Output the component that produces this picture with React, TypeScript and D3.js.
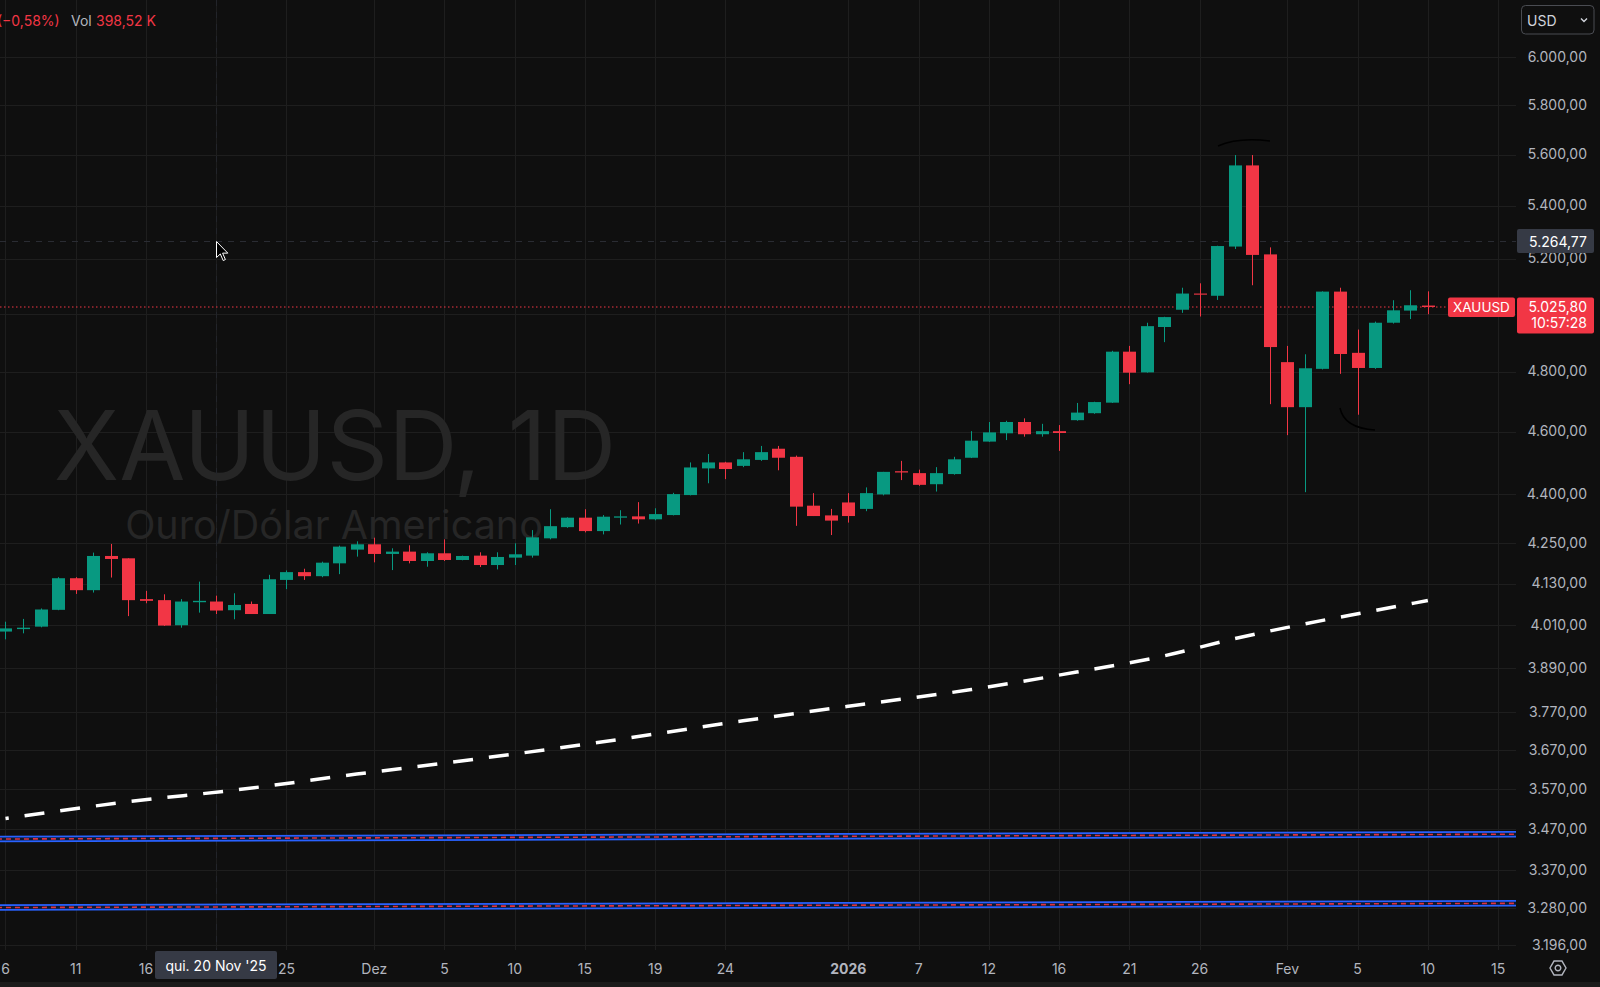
import React from 'react';
import * as d3 from 'd3';

// ---------- DATA ----------
// daily bars (Sun–Fri sessions), index 0 = 6 Nov 2025, index 81 = 10 Feb 2026
const opens = [3992, 3999, 4006, 4054, 4146, 4111, 4212, 4205, 4085, 4082, 4010, 4076, 4078, 4053, 4071, 4042, 4141, 4164, 4152, 4190, 4231, 4247, 4218, 4225, 4197, 4220, 4200, 4213, 4185, 4207, 4213, 4265, 4299, 4328, 4287, 4328, 4332, 4323, 4336, 4398, 4482, 4501, 4490, 4509, 4545, 4519, 4365, 4335, 4375, 4355, 4400, 4473, 4467, 4432, 4464, 4516, 4568, 4595, 4632, 4592, 4602, 4638, 4661, 4696, 4869, 4798, 4955, 5016, 5074, 5066, 5246, 5557, 5217, 4833, 4681, 4810, 5081, 4865, 4813, 4970, 5013, 5031];
const highs = [4020, 4028, 4058, 4149, 4149, 4222, 4248, 4205, 4109, 4099, 4085, 4136, 4095, 4102, 4078, 4156, 4169, 4174, 4195, 4243, 4256, 4267, 4235, 4244, 4223, 4262, 4213, 4223, 4223, 4250, 4290, 4354, 4329, 4354, 4336, 4351, 4376, 4357, 4405, 4501, 4528, 4503, 4534, 4554, 4554, 4523, 4404, 4355, 4404, 4422, 4471, 4506, 4478, 4486, 4519, 4602, 4632, 4636, 4644, 4626, 4622, 4695, 4699, 4872, 4889, 4970, 4991, 5095, 5111, 5249, 5598, 5598, 5243, 4889, 4860, 5082, 5095, 4946, 4974, 5050, 5086, 5082];
const lows = [3970, 3987, 4004, 4053, 4100, 4104, 4148, 4036, 4073, 4008, 4003, 4046, 4042, 4027, 4042, 4042, 4114, 4141, 4149, 4158, 4210, 4193, 4170, 4190, 4180, 4197, 4199, 4179, 4172, 4185, 4207, 4262, 4297, 4283, 4277, 4307, 4310, 4320, 4335, 4397, 4435, 4448, 4486, 4506, 4476, 4303, 4333, 4275, 4313, 4348, 4397, 4445, 4427, 4409, 4462, 4515, 4567, 4573, 4584, 4584, 4538, 4636, 4659, 4695, 4758, 4797, 4902, 5005, 4992, 5051, 5237, 5104, 4691, 4589, 4407, 4808, 4793, 4656, 4810, 4967, 4983, 5000];
const closes = [4001, 4003, 4055, 4146, 4111, 4212, 4203, 4082, 4080, 4009, 4078, 4080, 4052, 4068, 4042, 4143, 4164, 4152, 4192, 4240, 4247, 4218, 4225, 4197, 4220, 4200, 4212, 4185, 4209, 4217, 4268, 4302, 4328, 4287, 4331, 4332, 4323, 4339, 4401, 4485, 4501, 4480, 4511, 4534, 4516, 4362, 4333, 4319, 4333, 4404, 4471, 4469, 4430, 4467, 4511, 4571, 4598, 4632, 4592, 4602, 4596, 4663, 4698, 4869, 4797, 4958, 4990, 5074, 5070, 5248, 5557, 5215, 4885, 4681, 4812, 5081, 4861, 4813, 4970, 5014, 5032, 5025.8];

// moving average (dashed white), sampled bars
const maBars = [0, 7, 13, 20, 27, 33, 42, 48, 55, 61, 66, 70, 74, 78, 81];
const maValues = [3496, 3538, 3567, 3608, 3648, 3685, 3747, 3786, 3831, 3879, 3924, 3972, 4014, 4052, 4081];

// horizontal level bands (bar index, price) endpoints
const levelBars = [-1, 87];
const levelUpper = [3445.5, 3457.5];
const levelLower = [3282, 3292];

// price axis ticks (5.000,00 is hidden behind the last-price label)
const priceTicks = [6000, 5800, 5600, 5400, 5200, 5000, 4800, 4600, 4400, 4250, 4130, 4010, 3890, 3770, 3670, 3570, 3470, 3370, 3280, 3196];
const hiddenPriceLabels = [5000];

// time axis ticks ('' = label hidden behind the crosshair date label)
const timeTickBars = [0, 4, 8, 12, 16, 21, 25, 29, 33, 37, 41, 48, 52, 56, 60, 64, 68, 73, 77, 81, 85];
const timeTickLabels = ['6', '11', '16', '', '25', 'Dez', '5', '10', '15', '19', '24', '2026', '7', '12', '16', '21', '26', 'Fev', '5', '10', '15'];

const lastPrice = 5025.8;
const crossBar = 12;
const crossPrice = 5264.77;

// ---------- LAYOUT ----------
const W = 1600;
const H = 987;
const PLOT_W = 1516;
const PLOT_B = 950;
const BG = '#0f0f0f';
const GRID = '#1e1e1e';
const TXT = '#b2b5be';
const UP = '#089981';
const DOWN = '#f23645';
const FONT = 'Inter, Roboto, sans-serif';

const fmt = (v: number) => {
  const s = v.toFixed(2).split('.');
  const int = s[0].replace(/\B(?=(\d{3})+(?!\d))/g, '.');
  return int + ',' + s[1];
};

export default function App() {
  const x = d3.scaleLinear().domain([-0.313, 86.02]).range([0, PLOT_W]);
  const y = d3.scaleLog().domain([6000, 3196]).range([57.3, 945]);

  const maLine = d3
    .line<number>()
    .x((_, i) => x(maBars[i]))
    .y((d) => y(d))
    .curve(d3.curveMonotoneX)(maValues) as string;

  // approximate length so the dashed line ends on a dash
  let maLen = 0;
  for (let i = 1; i < maBars.length; i++) {
    maLen += Math.hypot(x(maBars[i]) - x(maBars[i - 1]), y(maValues[i]) - y(maValues[i - 1]));
  }
  const dash = 20;
  const gap = 16;
  const period = dash + gap;
  const maOffset = (((dash - 1 - (maLen % period)) % period) + period) % period;

  const bodyW = 13;

  const band = (vals: number[], key: string) => {
    const x1 = x(levelBars[0]);
    const x2 = x(levelBars[1]);
    const y1 = y(vals[0]);
    const y2 = y(vals[1]);
    return (
      <g key={key}>
        <line x1={x1} y1={y1} x2={x2} y2={y2} stroke="#2962ff" strokeWidth={6.5} />
        <line x1={x1} y1={y1} x2={x2} y2={y2} stroke="#0e1730" strokeWidth={3} />
        <line x1={x1} y1={y1} x2={x2} y2={y2} stroke="#e0333f" strokeWidth={1.6} strokeDasharray="5 4" />
      </g>
    );
  };

  const crossX = Math.round(x(crossBar)) + 0.5;
  const crossY = y(crossPrice);
  const lastY = y(lastPrice);

  return (
    <svg
      width={W}
      height={H}
      style={{ position: 'absolute', left: 0, top: 0, background: BG, display: 'block' }}
      fontFamily={FONT}
    >
      <rect x={0} y={0} width={W} height={H} fill={BG} />
      <defs>
        <clipPath id="plot">
          <rect x={0} y={0} width={PLOT_W} height={PLOT_B} />
        </clipPath>
      </defs>

      {/* grid */}
      <g>
        {priceTicks.map((p) => (
          <line key={'hg' + p} x1={0} x2={PLOT_W} y1={Math.round(y(p)) + 0.5} y2={Math.round(y(p)) + 0.5} stroke={GRID} strokeWidth={1} />
        ))}
        {timeTickBars.map((b, i) => (
          <line key={'vg' + i} x1={Math.round(x(b)) + 0.5} x2={Math.round(x(b)) + 0.5} y1={0} y2={PLOT_B} stroke={GRID} strokeWidth={1} />
        ))}
      </g>

      {/* watermark */}
      <text x={335} y={480} textAnchor="middle" fontSize={96} fill="#262626" fontFamily={FONT}>
        XAUUSD, 1D
      </text>
      <text x={334} y={539} textAnchor="middle" fontSize={39.5} fill="#262626" fontFamily={FONT}>
        Ouro/Dólar Americano
      </text>

      <g clipPath="url(#plot)">
        {/* crosshair */}
        <line x1={0} x2={PLOT_W} y1={crossY} y2={crossY} stroke="#2c2e35" strokeWidth={1} strokeDasharray="6 6" />
        <line x1={crossX} x2={crossX} y1={0} y2={PLOT_B} stroke="#22242a" strokeWidth={1} strokeDasharray="6 6" />

        {/* level bands */}
        {band(levelUpper, 'u')}
        {band(levelLower, 'l')}

        {/* moving average */}
        <path
          d={maLine}
          fill="none"
          stroke="#ffffff"
          strokeWidth={3.5}
          strokeDasharray={`${dash} ${gap}`}
          strokeDashoffset={-maOffset}
        />

        {/* last price line */}
        <line x1={0} x2={1448} y1={lastY} y2={lastY} stroke={DOWN} strokeWidth={1} strokeDasharray="1.5 2.5" />

        {/* candles */}
        {opens.map((o, i) => {
          const c = closes[i];
          const col = c >= o ? UP : DOWN;
          const cx = Math.round(x(i)) + 0.5;
          const top = y(Math.max(o, c));
          const bot = y(Math.min(o, c));
          const h = Math.max(1, bot - top);
          return (
            <g key={'c' + i}>
              <line x1={cx} x2={cx} y1={y(highs[i])} y2={y(lows[i])} stroke={col} strokeWidth={1} />
              <rect x={cx - bodyW / 2} y={top} width={bodyW} height={h} fill={col} />
            </g>
          );
        })}

        {/* hand-drawn arcs */}
        <path d="M1218,146 Q1238,137 1270,141" fill="none" stroke="#000" strokeWidth={1.5} />
        <path d="M1340,408 Q1344,428 1375,430" fill="none" stroke="#000" strokeWidth={1.5} />
      </g>

      {/* cursor */}
      <path
        d={`M${crossX},${crossY} l0,16 l3.8,-3.6 l2.9,6.6 l2.2,-1 l-2.8,-6.4 l5.2,0 z`}
        fill="#000"
        stroke="#fff"
        strokeWidth={1}
      />

      {/* price axis labels */}
      <g fontSize={14} fill={TXT}>
        {priceTicks
          .filter((p) => !hiddenPriceLabels.includes(p))
          .map((p) => (
            <text key={'pl' + p} x={1587} y={y(p) - 1} textAnchor="end" dominantBaseline="central">
              {fmt(p)}
            </text>
          ))}
      </g>

      {/* time axis labels */}
      <g fontSize={14} fill={TXT}>
        {timeTickBars.map((b, i) =>
          timeTickLabels[i] ? (
            <text
              key={'tl' + i}
              x={x(b)}
              y={968}
              textAnchor="middle"
              dominantBaseline="central"
              fontWeight={timeTickLabels[i] === '2026' ? 700 : 400}
            >
              {timeTickLabels[i]}
            </text>
          ) : null
        )}
      </g>

      {/* crosshair time label */}
      <rect x={155} y={951} width={122} height={28} rx={2} fill="#363a45" />
      <text x={216} y={965.5} textAnchor="middle" dominantBaseline="central" fontSize={14} fill="#ffffff">
        qui. 20 Nov '25
      </text>

      {/* crosshair price label */}
      <rect x={1517} y={229} width={77} height={24} rx={2} fill="#363a45" />
      <text x={1587} y={crossY} textAnchor="end" dominantBaseline="central" fontSize={14} fill="#ffffff">
        {fmt(crossPrice)}
      </text>

      {/* last price labels */}
      <rect x={1448} y={lastY - 9.5} width={67} height={19.5} rx={2} fill={DOWN} />
      <text x={1481.5} y={lastY} textAnchor="middle" dominantBaseline="central" fontSize={13.5} fill="#ffffff">
        XAUUSD
      </text>
      <rect x={1517} y={lastY - 9.5} width={77} height={36} rx={2} fill={DOWN} />
      <text x={1587} y={lastY - 1} textAnchor="end" dominantBaseline="central" fontSize={14} fill="#ffffff">
        {fmt(lastPrice)}
      </text>
      <text x={1587} y={lastY + 15} textAnchor="end" dominantBaseline="central" fontSize={14} fill="#ffffff">
        10:57:28
      </text>

      {/* currency button */}
      <rect x={1521.5} y={5.5} width={72.5} height={28.5} rx={4} fill={BG} stroke="#4a4c52" strokeWidth={1} />
      <text x={1527} y={20} dominantBaseline="central" fontSize={14} fill="#d1d4dc">
        USD
      </text>
      <path d="M1581,18.5 l3,3 l3,-3" fill="none" stroke="#d1d4dc" strokeWidth={1.4} />

      {/* settings icon */}
      <g transform="translate(1558,968)" fill="none" stroke={TXT} strokeWidth={1.4}>
        <path
          d={
            d3
              .range(6)
              .map((k) => {
                const a = (Math.PI / 3) * k;
                return (k === 0 ? 'M' : 'L') + (8 * Math.cos(a)).toFixed(2) + ',' + (8 * Math.sin(a)).toFixed(2);
              })
              .join('') + 'Z'
          }
        />
        <circle r={2.8} />
      </g>

      {/* header legend */}
      <g fontSize={14} dominantBaseline="central">
        <text x={-3} y={20} fill={DOWN}>(−0,58%)</text>
        <text x={71} y={20} fill={TXT}>Vol</text>
        <text x={96} y={20} fill={DOWN}>398,52 K</text>
      </g>

      {/* bottom border */}
      <rect x={0} y={982} width={W} height={5} fill="#1b1b1b" />
    </svg>
  );
}
